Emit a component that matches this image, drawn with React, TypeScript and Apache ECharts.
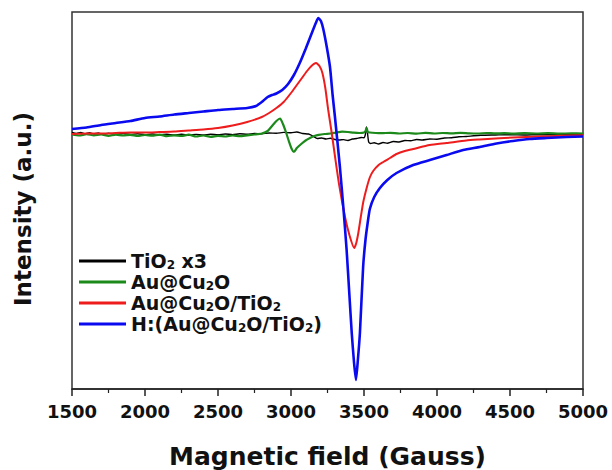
import { useEffect, useRef } from "react";
import * as echarts from "echarts";

const FIELD_MIN = 1500;
const FIELD_MAX = 5000;
const FIELD_STEP = 500;
const INT_MIN = -254;
const INT_MAX = 123;

const seriesNames = ["TiO2 x3", "Au@Cu2O", "Au@Cu2O/TiO2", "H:(Au@Cu2O/TiO2)"];
const legendLabels = ["TiO{s|2} x3", "Au@Cu{s|2}O", "Au@Cu{s|2}O/TiO{s|2}", "H:(Au@Cu{s|2}O/TiO{s|2})"];
const colors = ["#000000", "#1b8a1b", "#ee1c1c", "#0a0af0"];
const widths = [1.4, 2.2, 2, 2.6];
const xTitle = "Magnetic field (Gauss)";
const yTitle = "Intensity (a.u.)";

const tio2: [number, number][] = [
  [1500, 2.7], [1530, 1.5], [1560, 2.5], [1590, 1.2], [1620, 2.3], [1650, 1], [1680, 2], [1710, 0.8],
  [1750, 1.8], [1800, 0.6], [1850, 1.5], [1900, 0.5], [1950, 1.3], [2000, 0.3], [2050, 1], [2100, 0.2],
  [2150, 0.8], [2200, 0], [2250, 0.7], [2300, -0.2], [2350, 0.6], [2400, 0], [2450, 0.8], [2500, 0.2],
  [2550, 1], [2600, 0.4], [2650, 1.2], [2700, 0.8], [2750, 1.5], [2800, 1.2], [2850, 2], [2900, 1.7],
  [2950, 2.6], [3000, 2.2], [3040, 3], [3080, 1.5], [3120, 1], [3150, -1], [3180, -3.5], [3210, -3],
  [3240, -4], [3270, -3.3], [3300, -4.5], [3330, -5], [3360, -4.6], [3390, -5.5], [3420, -4], [3450, -3.5],
  [3480, -2.5], [3500, -2.8], [3510, 1], [3517, 8], [3524, 2], [3532, -7], [3545, -8.5], [3570, -7.8],
  [3600, -9], [3630, -7.5], [3660, -8.2], [3700, -6.5], [3740, -7], [3780, -5.5], [3820, -5.8], [3860, -4.5],
  [3900, -5], [3950, -4], [4000, -4.3], [4050, -3], [4100, -2.8], [4150, -1.8], [4200, -1.5], [4250, -0.8],
  [4300, -0.3], [4400, 0], [4500, 0.3], [4600, 0], [4700, 0.4], [4800, 0.2], [4900, 0.3], [5000, 0.2],
];

const auCu2o: [number, number][] = [
  [1500, 0.5], [1550, -0.5], [1600, 0.8], [1650, -0.3], [1700, 0.5], [1750, -0.8], [1800, 0.3], [1850, -0.5],
  [1900, 0.2], [1950, -1], [2000, 0], [2050, -0.7], [2100, 0.4], [2150, -1.2], [2200, -0.3], [2250, -1],
  [2300, 0.3], [2350, -1.5], [2400, -0.5], [2450, -1.8], [2500, -0.8], [2550, -1.5], [2600, -0.5], [2650, -1.2],
  [2700, -0.3], [2750, 0.5], [2800, 1.5], [2840, 4], [2870, 9], [2900, 14], [2925, 16.5], [2945, 11],
  [2965, 3], [2985, -6], [3005, -14], [3020, -17], [3040, -13], [3070, -9], [3100, -5.5], [3130, -3],
  [3160, -1], [3190, 0.2], [3230, 1], [3270, 1.5], [3310, 2.5], [3350, 3.3], [3390, 3], [3430, 2.3],
  [3470, 2], [3500, 2.5], [3510, 4], [3518, 7], [3526, 3], [3540, 2.5], [3580, 2], [3620, 1.8],
  [3680, 2.2], [3740, 1.5], [3800, 2], [3860, 1.4], [3920, 2.1], [3980, 1.5], [4040, 2], [4100, 1.6],
  [4160, 2.2], [4220, 1.7], [4280, 1.5], [4340, 2], [4400, 1.6], [4460, 1.8], [4520, 1.3], [4600, 1.8],
  [4680, 1.5], [4760, 1.9], [4840, 1.4], [4920, 1.6], [5000, 1.5],
];

const auCu2oTio2: [number, number][] = [
  [1500, 1], [1600, 1.5], [1700, 1.5], [1800, 2], [1900, 2.5], [2000, 2.5], [2100, 3], [2200, 3.5],
  [2300, 4.5], [2400, 5.5], [2500, 7], [2600, 9.5], [2700, 13], [2800, 18], [2850, 22], [2900, 27],
  [2950, 33], [3000, 42], [3040, 50], [3080, 58], [3110, 64], [3140, 69], [3171, 72], [3195, 69],
  [3215, 62], [3235, 47], [3255, 25], [3279, 2], [3300, -20], [3330, -50], [3370, -82], [3400, -100],
  [3433, -113], [3447, -108], [3461, -98], [3478, -82], [3495, -67], [3520, -52], [3541, -42], [3563, -36],
  [3600, -30], [3632, -27], [3678, -23], [3723, -19], [3780, -16], [3837, -14], [3950, -10], [4066, -8],
  [4200, -5.5], [4293, -4.5], [4400, -3.5], [4521, -2.5], [4700, -1.5], [4850, -0.8], [5000, -0.3],
];

const hAuCu2oTio2: [number, number][] = [
  [1500, 6], [1600, 7.5], [1700, 10], [1800, 12], [1900, 14], [2000, 17], [2100, 18.5], [2200, 20.5],
  [2300, 22], [2400, 23.5], [2500, 25], [2600, 26], [2700, 27], [2760, 29], [2800, 33], [2840, 38],
  [2870, 40], [2900, 41.5], [2940, 45], [2980, 51], [3020, 60], [3060, 72], [3100, 86], [3140, 101],
  [3170, 112], [3187, 117], [3205, 114], [3221, 106], [3245, 88], [3267, 68], [3285, 40], [3301, 18],
  [3335, -32], [3360, -75], [3381, -115], [3400, -160], [3416, -198], [3432, -228], [3445, -245], [3458, -225],
  [3472, -198], [3494, -132], [3510, -105], [3525, -88], [3540, -74], [3570, -62], [3609, -53], [3660, -45],
  [3723, -38], [3837, -30], [3951, -25], [4066, -20], [4179, -15], [4293, -12], [4408, -8.5], [4521, -6],
  [4635, -4], [4750, -3], [4887, -2], [5000, -1.5],
];

const seriesData = [tio2, auCu2o, auCu2oTio2, hAuCu2oTio2];

const FONT = "'DejaVu Sans', 'Liberation Sans', Arial, sans-serif";

export default function App() {
  const ref = useRef<HTMLDivElement | null>(null);
  useEffect(() => {
    if (!ref.current) return;
    const chart = echarts.init(ref.current, undefined, { renderer: "svg" });
    const labelMap: Record<string, string> = {};
    seriesNames.forEach((n, i) => (labelMap[n] = legendLabels[i]));
    chart.setOption({
      animation: false,
      backgroundColor: "#ffffff",
      grid: {
        left: 72,
        right: 29,
        top: 12,
        bottom: 81,
        show: true,
        borderColor: "#333333",
        borderWidth: 1.5,
        backgroundColor: "transparent",
      },
      legend: {
        orient: "vertical",
        left: 74,
        top: 246,
        itemWidth: 47,
        itemHeight: 3,
        itemGap: 1,
        icon: "rect",
        data: seriesNames.map((n, i) => ({ name: n, itemStyle: { color: colors[i] } })),
        formatter: (name: string) => labelMap[name] ?? name,
        textStyle: {
          fontFamily: FONT,
          fontWeight: "bold",
          fontSize: 19,
          color: "#111111",
          lineHeight: 20,
          rich: {
            s: {
              fontFamily: FONT,
              fontWeight: "bold",
              fontSize: 12,
              color: "#111111",
              lineHeight: 1,
              verticalAlign: "bottom",
            },
          },
        },
      },
      xAxis: {
        type: "value",
        min: FIELD_MIN,
        max: FIELD_MAX,
        interval: FIELD_STEP,
        axisLine: { show: true, onZero: false, lineStyle: { color: "#222222", width: 1.5 } },
        axisTick: { show: true, inside: false, length: 7, lineStyle: { color: "#222222", width: 1.5 } },
        minorTick: { show: true, splitNumber: 2, length: 4, lineStyle: { color: "#222222", width: 1.2 } },
        splitLine: { show: false },
        axisLabel: {
          margin: 13,
          fontFamily: FONT,
          fontWeight: "bold",
          fontSize: 18,
          color: "#111111",
          formatter: (v: number) => String(v),
        },
      },
      yAxis: {
        type: "value",
        min: INT_MIN,
        max: INT_MAX,
        axisLine: { show: false },
        axisTick: { show: false },
        axisLabel: { show: false },
        splitLine: { show: false },
      },
      graphic: [
        {
          type: "text",
          x: 327.5,
          y: 456,
          style: {
            text: xTitle,
            fontFamily: FONT,
            fontWeight: "bold",
            fontSize: 25,
            fill: "#111111",
            align: "center",
            verticalAlign: "middle",
            textAlign: "center",
            textVerticalAlign: "middle",
          },
        },
        {
          type: "text",
          x: 23,
          y: 209,
          rotation: Math.PI / 2,
          style: {
            text: yTitle,
            fontFamily: FONT,
            fontWeight: "bold",
            fontSize: 23,
            fill: "#111111",
            align: "center",
            verticalAlign: "middle",
            textAlign: "center",
            textVerticalAlign: "middle",
          },
        },
      ],
      series: seriesNames.map((n, i) => ({
        name: n,
        type: "line",
        data: seriesData[i],
        showSymbol: false,
        symbol: "none",
        smooth: 0.2,
        color: colors[i],
        lineStyle: { color: colors[i], width: widths[i] },
        z: 2 + i,
      })),
    });
    return () => chart.dispose();
  }, []);
  return (
    <div
      ref={ref}
      style={{ position: "fixed", left: 0, top: 0, width: 612, height: 470, background: "#fff" }}
    />
  );
}
